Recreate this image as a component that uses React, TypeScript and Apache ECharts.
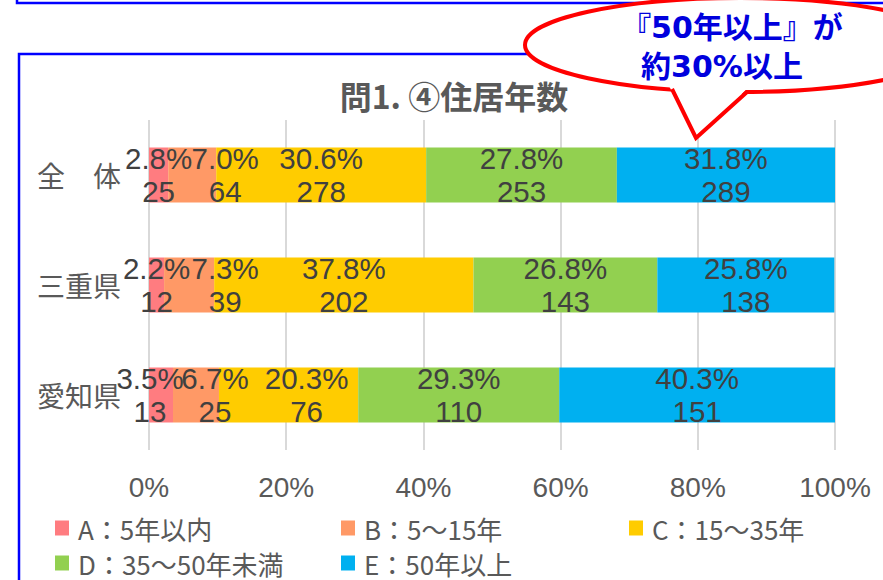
import React, { useEffect, useRef } from 'react';
import * as echarts from 'echarts';

const categories = ['全　体', '三重県', '愛知県'];
const seriesNames = ['A：5年以内', 'B：5～15年', 'C：15～35年', 'D：35～50年未満', 'E：50年以上'];
const seriesColors = ['#FF7C80', '#FF9966', '#FFCC00', '#92D050', '#00B0F0'];

const pctA = [2.8, 2.2, 3.5];
const pctB = [7.0, 7.3, 6.7];
const pctC = [30.6, 37.8, 20.3];
const pctD = [27.8, 26.8, 29.3];
const pctE = [31.8, 25.8, 40.3];

const cntA = [25, 12, 13];
const cntB = [64, 39, 25];
const cntC = [278, 202, 76];
const cntD = [253, 143, 110];
const cntE = [289, 138, 151];

const pcts = [pctA, pctB, pctC, pctD, pctE];
const cnts = [cntA, cntB, cntC, cntD, cntE];

const titleText = '問1. ④住居年数';
const calloutLine1 = '『50年以上』が';
const calloutLine2 = '約30%以上';

// horizontal label nudges (px) per series / category, as placed in the reference
const labelShiftA = [0, 0, -11];
const labelShiftB = [33, 36, 19];
const labelShiftC = [0, 0, 18];
const labelShiftD = [0, 0, 0];
const labelShiftE = [0, 0, 0];
const labelShifts = [labelShiftA, labelShiftB, labelShiftC, labelShiftD, labelShiftE];

const LATIN = "'Liberation Sans', Arial, 'Noto Sans CJK JP', sans-serif";
const CJK = "'Noto Sans CJK JP', 'Liberation Sans', sans-serif";

const legendPos = [
  [55, 515],
  [341, 515],
  [629, 515],
  [55, 550],
  [341, 550],
];

export default function App() {
  const ref = useRef<HTMLDivElement>(null);
  useEffect(() => {
    if (!ref.current) return;
    const chart = echarts.init(ref.current, null, { renderer: 'svg' });
    const series = seriesNames.map((name, i) => ({
      name,
      type: 'bar',
      stack: 'total',
      barWidth: 55,
      data: pcts[i].map((v, j) => ({
        value: v,
        label: { offset: [labelShifts[i][j], 0] },
      })),
      itemStyle: { color: seriesColors[i] },
      label: {
        show: true,
        position: 'inside',
        color: '#404040',
        fontSize: 29.5,
        lineHeight: 33,
        fontFamily: LATIN,
        formatter: (p: any) => `${Number(p.value).toFixed(1)}%\n${cnts[i][p.dataIndex]}`,
      },
      emphasis: { disabled: true },
    }));

    const legends = seriesNames.map((name, i) => ({
      show: true,
      data: [name],
      left: legendPos[i][0],
      top: legendPos[i][1],
      padding: 0,
      icon: 'rect',
      itemWidth: 14,
      itemHeight: 15,
      itemGap: 0,
      selectedMode: false,
      textStyle: {
        fontSize: 26,
        color: '#595959',
        fontFamily: CJK,
        lineHeight: 26,
        padding: [0, 0, 0, 4],
      },
    }));

    chart.setOption({
      animation: false,
      backgroundColor: '#ffffff',
      grid: { left: 149, right: 48, top: 120, bottom: 130, containLabel: false },
      xAxis: {
        type: 'value',
        min: 0,
        max: 100,
        interval: 20,
        axisLine: { show: false },
        axisTick: { show: false },
        splitLine: { show: true, lineStyle: { color: '#d9d9d9', width: 2 } },
        axisLabel: {
          formatter: '{value}%',
          fontSize: 28,
          color: '#595959',
          fontFamily: LATIN,
          margin: 23,
        },
      },
      yAxis: {
        type: 'category',
        inverse: true,
        data: categories,
        axisLine: { show: false },
        axisTick: { show: false },
        axisLabel: { fontSize: 28, color: '#595959', fontFamily: CJK, margin: 28 },
      },
      legend: legends,
      series,
      graphic: [
        {
          type: 'rect',
          shape: { x: 17, y: -100, width: 900, height: 103 },
          style: { fill: 'none', stroke: '#0000ff', lineWidth: 2.5 },
          z: 50,
        },
        {
          type: 'rect',
          shape: { x: 19, y: 54, width: 900, height: 600 },
          style: { fill: 'none', stroke: '#0000ff', lineWidth: 2.5 },
          z: 50,
        },
        {
          type: 'text',
          x: 454,
          y: 95,
          style: {
            text: titleText,
            fontSize: 32,
            fontWeight: 'bold',
            fill: '#595959',
            fontFamily: CJK,
            textAlign: 'center',
            textVerticalAlign: 'middle',
          },
          z: 50,
        },
        {
          type: 'ellipse',
          shape: { cx: 740, cy: 45, rx: 215, ry: 47 },
          style: { fill: '#ffffff', stroke: '#ff0000', lineWidth: 4 },
          z: 100,
        },
        {
          type: 'polygon',
          shape: { points: [[667, 82], [696, 138], [752, 84]] },
          style: { fill: '#ffffff' },
          z: 101,
        },
        {
          type: 'polyline',
          shape: { points: [[672, 89], [696, 138], [747, 92]] },
          style: { stroke: '#ff0000', lineWidth: 4, fill: 'none' },
          z: 102,
        },
        {
          type: 'text',
          x: 732,
          y: 27,
          style: {
            text: calloutLine1,
            fontSize: 30,
            fontWeight: 'bold',
            fill: '#0000dd',
            fontFamily: "'DejaVu Sans', 'Noto Sans CJK JP', sans-serif",
            textAlign: 'center',
            textVerticalAlign: 'middle',
          },
          z: 103,
        },
        {
          type: 'text',
          x: 722,
          y: 66,
          style: {
            text: calloutLine2,
            fontSize: 30,
            fontWeight: 'bold',
            fill: '#0000dd',
            fontFamily: "'DejaVu Sans', 'Noto Sans CJK JP', sans-serif",
            textAlign: 'center',
            textVerticalAlign: 'middle',
          },
          z: 103,
        },
      ],
    });
    return () => chart.dispose();
  }, []);
  return (
    <div
      ref={ref}
      style={{ position: 'fixed', left: 0, top: 0, width: 883, height: 580, background: '#fff' }}
    />
  );
}
